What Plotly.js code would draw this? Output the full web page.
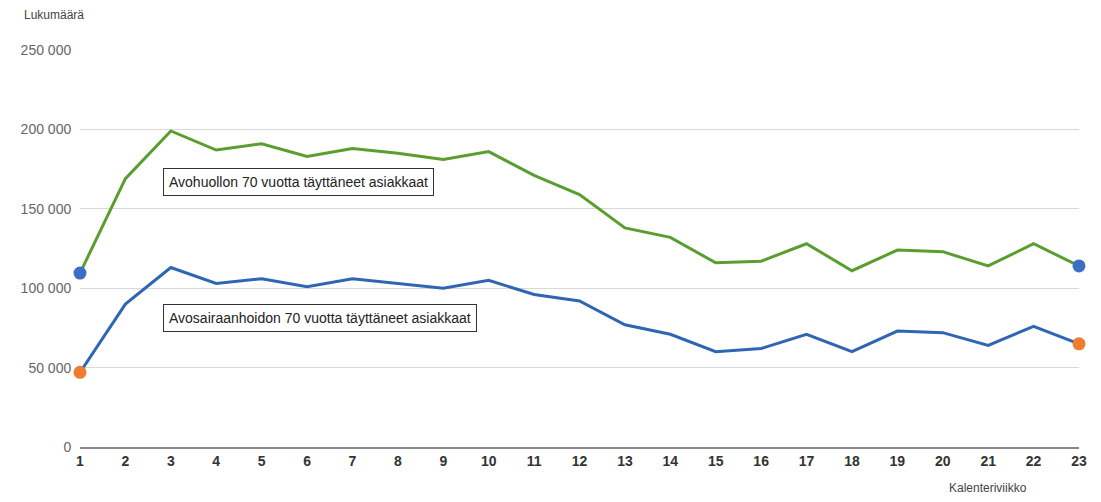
<!DOCTYPE html>
<html><head><meta charset="utf-8">
<script src="https://cdn.plot.ly/plotly-3.0.1.min.js"></script>
<style>body{margin:0}#chart{width:1101px;height:502px}</style>
</head><body><div id="chart"></div>
<script>
const weeks = Array.from({length: 23}, (_, i) => i + 1);
const avohuolto = [109500,169000,199000,187000,191000,183000,188000,185000,181000,186000,171000,159000,138000,132000,116000,117000,128000,111000,124000,123000,114000,128000,114000];
const avosairaanhoito = [47000,90000,113000,103000,106000,101000,106000,103000,100000,105000,96000,92000,77000,71000,60000,62000,71000,60000,73000,72000,64000,76000,65000];

const last = weeks.length - 1;
const traces = [
  {x: weeks, y: avohuolto, mode: "lines", line: {color: "#5a9e2f", width: 3}, hoverinfo: "y"},
  {x: weeks, y: avosairaanhoito, mode: "lines", line: {color: "#2f66b3", width: 3}, hoverinfo: "y"},
  {x: [weeks[0], weeks[last]], y: [avohuolto[0], avohuolto[last]], mode: "markers", cliponaxis: false,
   marker: {color: "#3a6fc4", size: 13}, hoverinfo: "y"},
  {x: [weeks[0], weeks[last]], y: [avosairaanhoito[0], avosairaanhoito[last]], mode: "markers", cliponaxis: false,
   marker: {color: "#ee7d31", size: 13}, hoverinfo: "y"}
];

const boxText = {font: {family: "Liberation Sans, Arial", size: 14, color: "#222"},
  bordercolor: "#333", borderwidth: 1, bgcolor: "#fff", borderpad: 5,
  showarrow: false, xanchor: "left", xref: "x", yref: "y"};

const layout = {
  width: 1101, height: 502,
  margin: {l: 80, r: 22, t: 50, b: 55},
  paper_bgcolor: "#fff", plot_bgcolor: "#fff",
  showlegend: false,
  font: {family: "Liberation Sans, Arial", color: "#555"},
  xaxis: {range: [1, 23], tickvals: weeks, showgrid: false, zeroline: false,
    showline: true, linecolor: "#888", linewidth: 2,
    tickfont: {size: 14, color: "#333", weight: "bold"}},
  yaxis: {range: [0, 250000], dtick: 50000, tickformat: ",d",
    separatethousands: true, gridcolor: "#d9d9d9", zeroline: false,
    tickfont: {size: 14, color: "#666"}, ticksuffix: "  "},
  separators: ", ",
  annotations: [
    Object.assign({x: 2.82, y: 167000, text: "Avohuollon 70 vuotta täyttäneet asiakkaat"}, boxText),
    Object.assign({x: 2.82, y: 81000, text: "Avosairaanhoidon 70 vuotta täyttäneet asiakkaat"}, boxText),
    {text: "Lukumäärä", xref: "paper", yref: "paper", x: -0.058, y: 1.11, xanchor: "left",
     showarrow: false, font: {size: 12, color: "#444"}},
    {text: "Kalenteriviikko", xref: "paper", yref: "paper", x: 0.95, y: -0.125, xanchor: "right",
     showarrow: false, font: {size: 12, color: "#444"}}
  ]
};

Plotly.newPlot("chart", traces, layout, {displayModeBar: false});
</script></body></html>
